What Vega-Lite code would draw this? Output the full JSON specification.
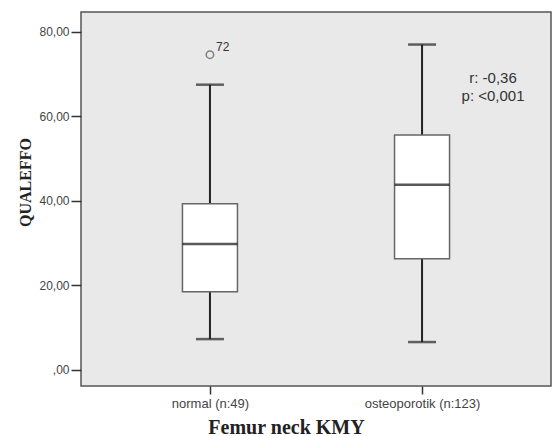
{
  "$schema": "https://vega.github.io/schema/vega-lite/v6.json",
  "autosize": "none",
  "width": 470,
  "height": 374,
  "padding": {"left": 81, "top": 12, "right": 3, "bottom": 50},
  "background": "white",
  "config": {
    "view": {"fill": "#e9e9e9", "stroke": "#555555", "strokeWidth": 1.5},
    "axis": {"domain": false, "grid": false, "tickColor": "#333333", "tickWidth": 1.5, "labelColor": "#444444", "labelFont": "Liberation Sans", "titleFont": "Liberation Serif", "titleFontWeight": "bold", "titleColor": "#222222"}
  },
  "datasets": {
    "boxes": [
      {"group": "normal (n:49)", "lower": 7.3, "q1": 18.5, "median": 29.8, "q3": 39.3, "upper": 67.5},
      {"group": "osteoporotik (n:123)", "lower": 6.6, "q1": 26.3, "median": 43.8, "q3": 55.6, "upper": 77.0}
    ],
    "outliers": [
      {"group": "normal (n:49)", "value": 74.6, "case": "72"}
    ],
    "notes": [
      {"group": "osteoporotik (n:123)", "value": 69.1, "text": "r: -0,36"},
      {"group": "osteoporotik (n:123)", "value": 64.9, "text": "p: <0,001"}
    ]
  },
  "encoding": {
    "x": {
      "field": "group", "type": "nominal",
      "scale": {"type": "point", "padding": 0.608, "domain": ["normal (n:49)", "osteoporotik (n:123)"]},
      "axis": {"title": "Femur neck KMY", "labelAngle": 0, "labelFontSize": 13, "tickSize": 8, "labelPadding": 3, "titleFontSize": 20, "titleX": 205, "titleY": 41, "titleBaseline": "middle", "titleAlign": "center"}
    }
  },
  "layer": [
    {
      "data": {"name": "boxes"},
      "mark": {"type": "rule", "color": "#222222", "strokeWidth": 2},
      "encoding": {
        "y": {"field": "lower", "type": "quantitative",
          "scale": {"domain": [-3.8, 84.7], "nice": false, "zero": false},
          "axis": {"title": "QUALEFFO", "values": [0, 20, 40, 60, 80], "labelExpr": "datum.value == 0 ? ',00' : replace(format(datum.value, '.2f'), '.', ',')", "labelFontSize": 12, "tickSize": 10, "labelPadding": 2, "titleFontSize": 16, "titleX": -56, "titleY": 170, "titleBaseline": "middle", "titleAlign": "center"}},
        "y2": {"field": "upper"}
      }
    },
    {
      "data": {"name": "boxes"},
      "mark": {"type": "tick", "color": "#222222", "size": 28, "thickness": 2.5},
      "encoding": {"y": {"field": "lower", "type": "quantitative"}}
    },
    {
      "data": {"name": "boxes"},
      "mark": {"type": "tick", "color": "#222222", "size": 28, "thickness": 2.5},
      "encoding": {"y": {"field": "upper", "type": "quantitative"}}
    },
    {
      "data": {"name": "boxes"},
      "mark": {"type": "bar", "width": 55, "fill": "white", "stroke": "#666666", "strokeWidth": 1.5},
      "encoding": {"y": {"field": "q1", "type": "quantitative"}, "y2": {"field": "q3"}}
    },
    {
      "data": {"name": "boxes"},
      "mark": {"type": "tick", "color": "#111111", "size": 55, "thickness": 2.5},
      "encoding": {"y": {"field": "median", "type": "quantitative"}}
    },
    {
      "data": {"name": "outliers"},
      "mark": {"type": "point", "shape": "circle", "filled": false, "size": 55, "stroke": "#555555", "strokeWidth": 1.5},
      "encoding": {"y": {"field": "value", "type": "quantitative"}}
    },
    {
      "data": {"name": "outliers"},
      "mark": {"type": "text", "align": "left", "dx": 6, "dy": -8, "fontSize": 12, "font": "Liberation Sans", "color": "#333333"},
      "encoding": {"y": {"field": "value", "type": "quantitative"}, "text": {"field": "case"}}
    },
    {
      "data": {"name": "notes"},
      "mark": {"type": "text", "align": "center", "dx": 71, "fontSize": 15, "font": "Liberation Sans", "color": "#333333"},
      "encoding": {"y": {"field": "value", "type": "quantitative"}, "text": {"field": "text"}}
    }
  ]
}
